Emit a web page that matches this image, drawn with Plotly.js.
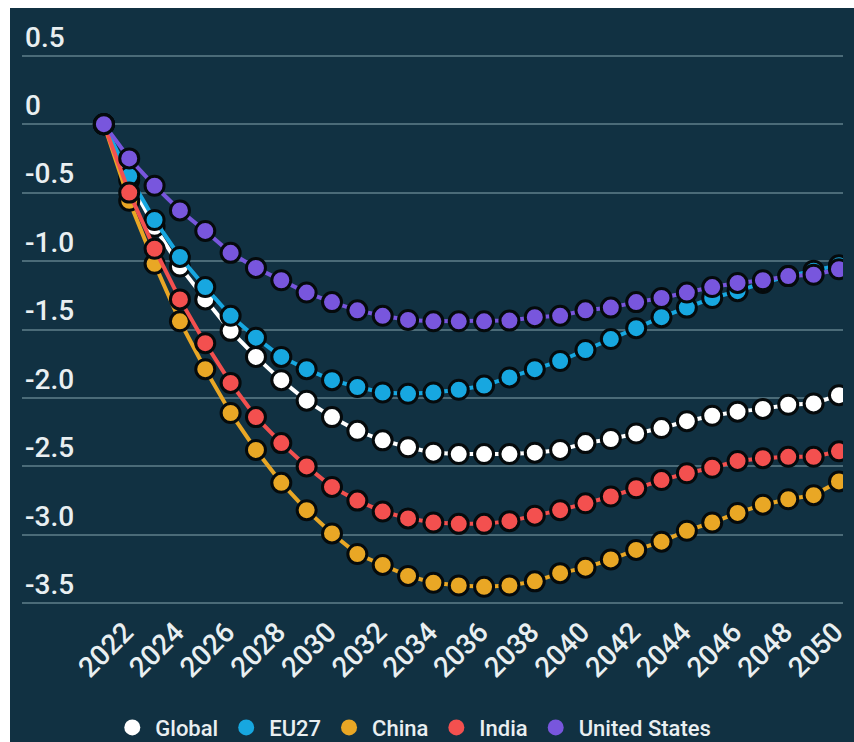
<!DOCTYPE html>
<html>
<head>
<meta charset="utf-8">
<script src="https://cdn.plot.ly/plotly-3.0.1.min.js"></script>
<style>
  html, body { margin: 0; padding: 0; background: #ffffff; width: 854px; height: 742px; overflow: hidden; }
  #chart { position: absolute; left: 10px; top: 8px; width: 844px; height: 734px; }
</style>
</head>
<body>
<div id="chart"></div>
<script>
const years = [2021,2022,2023,2024,2025,2026,2027,2028,2029,2030,2031,2032,2033,2034,2035,2036,2037,2038,2039,2040,2041,2042,2043,2044,2045,2046,2047,2048,2049,2050];

const globalVals = [0,-0.41,-0.75,-1.04,-1.28,-1.51,-1.70,-1.87,-2.02,-2.14,-2.24,-2.31,-2.36,-2.40,-2.41,-2.41,-2.41,-2.40,-2.38,-2.33,-2.30,-2.26,-2.22,-2.17,-2.13,-2.10,-2.08,-2.05,-2.04,-1.98];
const eu27Vals = [0,-0.38,-0.70,-0.97,-1.19,-1.40,-1.56,-1.70,-1.79,-1.87,-1.92,-1.96,-1.97,-1.96,-1.94,-1.91,-1.85,-1.79,-1.73,-1.65,-1.57,-1.49,-1.41,-1.34,-1.27,-1.22,-1.16,-1.11,-1.07,-1.03];
const chinaVals = [0,-0.56,-1.02,-1.44,-1.79,-2.11,-2.38,-2.62,-2.82,-2.99,-3.14,-3.22,-3.30,-3.35,-3.37,-3.38,-3.37,-3.34,-3.28,-3.24,-3.18,-3.11,-3.05,-2.97,-2.91,-2.84,-2.78,-2.74,-2.71,-2.61];
const indiaVals = [0,-0.50,-0.91,-1.28,-1.60,-1.89,-2.14,-2.33,-2.50,-2.65,-2.75,-2.83,-2.88,-2.91,-2.92,-2.92,-2.90,-2.86,-2.82,-2.77,-2.72,-2.66,-2.60,-2.55,-2.51,-2.46,-2.44,-2.43,-2.43,-2.39];
const usVals = [0,-0.25,-0.45,-0.63,-0.78,-0.94,-1.05,-1.14,-1.23,-1.30,-1.36,-1.40,-1.43,-1.44,-1.44,-1.44,-1.435,-1.41,-1.40,-1.36,-1.34,-1.30,-1.27,-1.23,-1.19,-1.16,-1.14,-1.11,-1.10,-1.06];

const seriesNames = ["Global","EU27","China","India","United States"];
const seriesColors = ["#ffffff","#17a7e0","#e9a725","#f3504f","#7856dd"];
const seriesData = [globalVals, eu27Vals, chinaVals, indiaVals, usVals];

const xTickVals = [2022,2024,2026,2028,2030,2032,2034,2036,2038,2040,2042,2044,2046,2048,2050];
const xTickText = ["2022","2024","2026","2028","2030","2032","2034","2036","2038","2040","2042","2044","2046","2048","2050"];
const yTickVals = [0.5,0,-0.5,-1.0,-1.5,-2.0,-2.5,-3.0,-3.5];
const yTickText = ["0.5","0","-0.5","-1.0","-1.5","-2.0","-2.5","-3.0","-3.5"];

const traces = [];
seriesData.forEach((vals, i) => {
  traces.push({
    type: "scatter",
    mode: "lines+markers",
    x: years,
    y: vals,
    name: seriesNames[i],
    showlegend: false,
    line: { color: seriesColors[i], width: 4 },
    marker: { color: seriesColors[i], size: 19, line: { color: "#050a0c", width: 3 } },
    hoverinfo: "x+y+name"
  });
});
seriesData.forEach((vals, i) => {
  traces.push({
    type: "scatter",
    mode: "markers",
    x: [null],
    y: [null],
    name: seriesNames[i],
    showlegend: true,
    marker: { color: seriesColors[i], size: 22, line: { width: 0 } }
  });
});

const layout = {
  width: 844,
  height: 734,
  paper_bgcolor: "#113142",
  plot_bgcolor: "#113142",
  margin: { l: 12, r: 11, t: 45, b: 136, autoexpand: false },
  font: { family: "Roboto, 'Open Sans', sans-serif", color: "#e9eff1" },
  showlegend: true,
  legend: {
    orientation: "h",
    x: 0.476, xanchor: "center",
    y: -0.22, yanchor: "middle",
    font: { size: 22, color: "#e9eff1", family: "Roboto, sans-serif", weight: 500 },
    itemsizing: "trace",
    itemwidth: 36,
    bgcolor: "rgba(0,0,0,0)"
  },
  xaxis: {
    range: [2017.77, 2050.16],
    tickvals: xTickVals,
    ticktext: xTickText,
    tickangle: -45,
    ticklabelstandoff: 3,
    ticklabelshift: -4,
    tickfont: { size: 28, color: "#e9eff1", family: "Roboto, sans-serif", weight: 500 },
    showgrid: false,
    zeroline: false,
    showline: false,
    ticks: "",
    automargin: false
  },
  yaxis: {
    range: [-3.52, 0.52],
    tickvals: yTickVals,
    ticktext: yTickText,
    ticklabelposition: "inside",
    ticklabelshift: -19,
    ticklabelstandoff: 0,
    ticklabeloverflow: "allow",
    tickfont: { size: 28, color: "#e9eff1", family: "Roboto, sans-serif", weight: 500 },
    showgrid: true,
    gridcolor: "#4b6b78",
    gridwidth: 2,
    zeroline: false,
    showline: false,
    ticks: "",
    automargin: false
  }
};

Plotly.newPlot("chart", traces, layout, { displayModeBar: false, staticPlot: true });
</script>
</body>
</html>
